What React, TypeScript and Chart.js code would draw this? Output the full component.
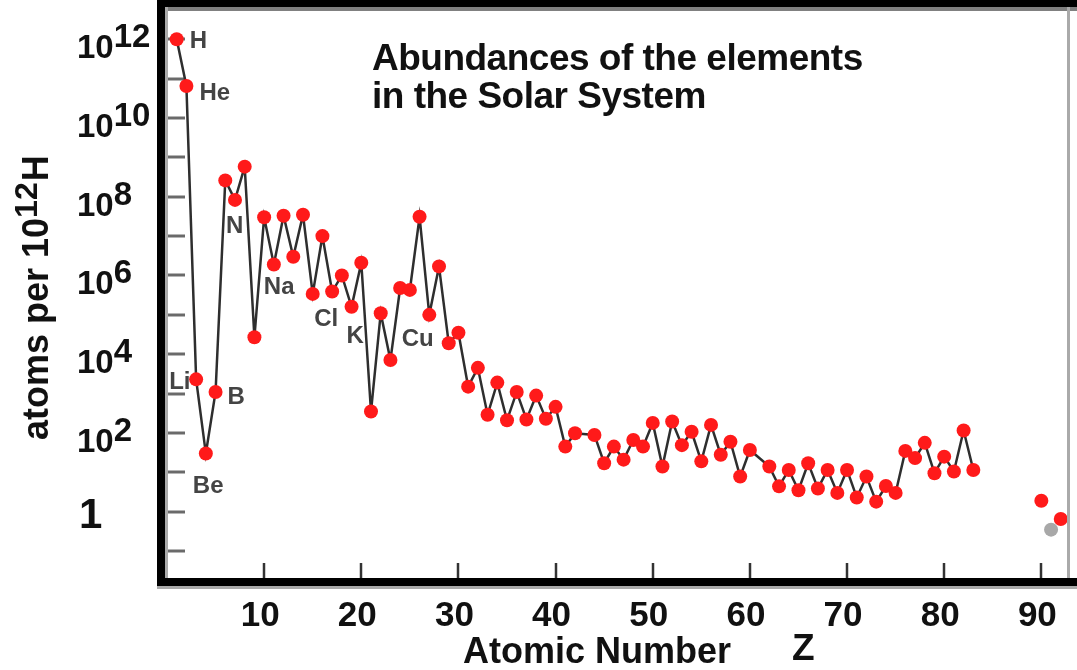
import React, { useEffect, useRef } from "react";
import { Chart, registerables } from "chart.js";

Chart.register(...registerables);

// ---- Data ----
const atomicNumbers = [
  1, 2, 3, 4, 5, 6, 7, 8, 9, 10, 11, 12, 13, 14, 15, 16, 17, 18, 19, 20,
  21, 22, 23, 24, 25, 26, 27, 28, 29, 30, 31, 32, 33, 34, 35, 36, 37, 38, 39, 40,
  41, 42, 44, 45, 46, 47, 48, 49, 50, 51, 52, 53, 54, 55, 56, 57, 58, 59, 60,
  62, 63, 64, 65, 66, 67, 68, 69, 70, 71, 72, 73, 74, 75, 76, 77, 78, 79, 80, 81, 82, 83,
];
const abundances = [
  1.0e12, 6.5e10, 2.3e3, 30, 1.1e3, 2.6e8, 8.3e7, 5.8e8, 2.7e4, 3.0e7,
  1.9e6, 3.3e7, 3.0e6, 3.5e7, 3.4e5, 1.0e7, 3.9e5, 1.0e6, 1.6e5, 2.1e6,
  350, 1.1e5, 7.1e3, 4.8e5, 4.3e5, 3.1e7, 1.0e5, 1.7e6, 1.9e4, 3.5e4,
  1.5e3, 4.5e3, 290, 1.9e3, 210, 1.1e3, 220, 890, 230, 460,
  45, 98, 89, 17, 45, 21, 66, 45, 180, 14, 195, 49, 107, 19, 160, 28, 60, 7.8, 37,
  14, 4.4, 11.5, 3.5, 17, 3.9, 11.5, 3.0, 11.5, 2.3, 7.8, 1.8, 4.5, 3.0, 35, 23, 56, 9.5, 25, 10.5, 115, 11.5,
];
const actinideZ = [90, 92];
const actinideAbundances = [1.9, 0.65];
const grayZ = [91];
const grayAbundances = [0.35];

const xTickValues = [10, 20, 30, 40, 50, 60, 70, 80, 90];
const yTickPowers = [-1, 0, 1, 2, 3, 4, 5, 6, 7, 8, 9, 10, 11, 12];
const yLabelPowers = [12, 10, 8, 6, 4, 2, 0];

const elementLabels = ["H", "He", "Li", "Be", "B", "N", "Na", "Cl", "K", "Cu"];
const elementLabelZ = [1, 2, 3, 4, 5, 7, 11, 17, 19, 29];
const elementLabelOffsets = [
  [13, 9], [13, 14], [-27, 10], [-13, 39], [12, 12], [-9, 33], [-10, 30], [-18, 34], [-5, 36], [-47, 3],
];

const titleLines = ["Abundances of the elements", "in the Solar System"];
const xAxisTitle = "Atomic Number";
const xAxisSymbol = "Z";
const yAxisTitleParts = ["atoms per 10", "12", "H"];

const FONT = '"Liberation Sans", Arial, Helvetica, sans-serif';
const RED = "#ff1a1a";

const decorPlugin = {
  id: "decor",
  beforeDatasetsDraw(chart: any) {
    const { ctx, chartArea: a, scales } = chart;
    ctx.save();
    // y tick marks (inside)
    ctx.strokeStyle = "#6a6a6a";
    ctx.lineWidth = 3;
    for (const p of yTickPowers) {
      const y = Math.round(scales.y.getPixelForValue(Math.pow(10, p)));
      ctx.beginPath();
      ctx.moveTo(a.left, y);
      ctx.lineTo(a.left + 20, y);
      ctx.stroke();
    }
    // x tick marks (inside)
    ctx.strokeStyle = "#333";
    ctx.lineWidth = 2.5;
    for (const v of xTickValues) {
      const x = Math.round(scales.x.getPixelForValue(v));
      ctx.beginPath();
      ctx.moveTo(x, a.bottom);
      ctx.lineTo(x, a.bottom - 15);
      ctx.stroke();
    }
    // title inside plot
    ctx.fillStyle = "#111";
    ctx.font = `bold 37px ${FONT}`;
    (ctx as any).letterSpacing = "-0.5px";
    ctx.textAlign = "left";
    ctx.textBaseline = "alphabetic";
    ctx.fillText(titleLines[0], a.left + 207, a.top + 63);
    ctx.fillText(titleLines[1], a.left + 207, a.top + 101);
    (ctx as any).letterSpacing = "0px";
    ctx.restore();
  },
  afterDatasetsDraw(chart: any) {
    const { ctx, scales } = chart;
    ctx.save();
    ctx.fillStyle = "#444";
    ctx.font = `bold 24px ${FONT}`;
    ctx.textAlign = "left";
    ctx.textBaseline = "alphabetic";
    elementLabels.forEach((lab, i) => {
      const z = elementLabelZ[i];
      const idx = atomicNumbers.indexOf(z);
      const px = scales.x.getPixelForValue(z);
      const py = scales.y.getPixelForValue(abundances[idx]);
      const [dx, dy] = elementLabelOffsets[i];
      ctx.fillText(lab, px + dx, py + dy);
    });
    ctx.restore();
  },
  afterDraw(chart: any) {
    const { ctx, chartArea: a, scales, width } = chart;
    ctx.save();
    // frame
    ctx.fillStyle = "#000";
    ctx.fillRect(a.left - 8, 0, 8, a.bottom + 8);
    ctx.fillRect(a.left - 8, 0, width, a.top);
    ctx.fillRect(a.left - 8, a.bottom, width, 8);
    ctx.fillStyle = "#808080";
    ctx.fillRect(a.left, a.top, width, 4);
    ctx.fillStyle = "#aaaaaa";
    ctx.fillRect(a.left, a.top, 3, a.bottom - a.top);
    ctx.fillRect(a.right - 3, a.top, 3, a.bottom - a.top);
    ctx.fillRect(a.left - 8, a.bottom + 8, width, 3);

    // y tick labels
    ctx.fillStyle = "#111";
    ctx.textAlign = "left";
    ctx.textBaseline = "alphabetic";
    for (const p of yLabelPowers) {
      const y = scales.y.getPixelForValue(Math.pow(10, p));
      if (p === 0) {
        ctx.font = `bold 42px ${FONT}`;
        ctx.fillText("1", 79, y + 16);
      } else {
        ctx.font = `bold 33px ${FONT}`;
        ctx.fillText("10", 77, y + 19);
        const w = ctx.measureText("10").width;
        ctx.fillText(String(p), 77 + w, y + 8);
      }
    }

    // x tick labels
    ctx.font = `bold 35px ${FONT}`;
    ctx.textAlign = "center";
    for (const v of xTickValues) {
      const x = scales.x.getPixelForValue(v);
      ctx.fillText(String(v), x - 4, a.bottom + 48);
    }

    // x axis title
    ctx.textAlign = "left";
    ctx.font = `bold 36px ${FONT}`;
    ctx.fillText(xAxisTitle, 463, a.bottom + 85);
    ctx.font = `bold 37px ${FONT}`;
    ctx.fillText(xAxisSymbol, 792, a.bottom + 82);

    // y axis title (rotated)
    ctx.translate(48, 440);
    ctx.rotate(-Math.PI / 2);
    ctx.font = `bold 36px ${FONT}`;
    ctx.fillText(yAxisTitleParts[0], 0, 0);
    let off = ctx.measureText(yAxisTitleParts[0]).width;
    ctx.font = `bold 32px ${FONT}`;
    ctx.fillText(yAxisTitleParts[1], off, -11);
    off += ctx.measureText(yAxisTitleParts[1]).width + 1;
    ctx.font = `bold 36px ${FONT}`;
    ctx.fillText(yAxisTitleParts[2], off, 0);
    ctx.restore();
  },
};

export default function App() {
  const ref = useRef<HTMLCanvasElement | null>(null);

  useEffect(() => {
    if (!ref.current) return;
    const mainData = atomicNumbers.map((z, i) => ({ x: z, y: abundances[i] }));
    const actData = actinideZ.map((z, i) => ({ x: z, y: actinideAbundances[i] }));
    const grayData = grayZ.map((z, i) => ({ x: z, y: grayAbundances[i] }));

    const chart = new Chart(ref.current, {
      type: "line",
      data: {
        datasets: [
          {
            data: mainData,
            borderColor: "#2e2e2e",
            borderWidth: 2.5,
            pointBackgroundColor: RED,
            pointBorderColor: RED,
            pointBorderWidth: 0,
            pointRadius: 7,
            pointStyle: "circle",
            tension: 0,
            fill: false,
          },
          {
            data: actData,
            showLine: false,
            pointBackgroundColor: RED,
            pointBorderColor: RED,
            pointBorderWidth: 0,
            pointRadius: 7,
          },
          {
            data: grayData,
            showLine: false,
            pointBackgroundColor: "#a8a8a8",
            pointBorderColor: "#a8a8a8",
            pointBorderWidth: 0,
            pointRadius: 7,
          },
        ],
      },
      options: {
        animation: false,
        responsive: true,
        maintainAspectRatio: false,
        devicePixelRatio: 1,
        layout: { padding: { top: 7, left: 0, right: 0, bottom: 0 } },
        plugins: {
          legend: { display: false },
          tooltip: { enabled: false },
          title: { display: false },
        },
        scales: {
          x: {
            type: "linear",
            min: -0.204,
            max: 92.95,
            grid: { display: false, drawTicks: false },
            border: { display: false },
            ticks: { display: false },
            afterBuildTicks: (s: any) => {
              s.ticks = xTickValues.map((v) => ({ value: v }));
            },
            afterFit: (s: any) => {
              s.height = 92;
            },
          },
          y: {
            type: "logarithmic",
            min: 0.0207,
            max: 6.59e12,
            grid: { display: false, drawTicks: false },
            border: { display: false },
            ticks: { display: false },
            afterBuildTicks: (s: any) => {
              s.ticks = yTickPowers.map((p) => ({ value: Math.pow(10, p) }));
            },
            afterFit: (s: any) => {
              s.width = 165;
            },
          },
        },
      } as any,
      plugins: [decorPlugin],
    });
    return () => chart.destroy();
  }, []);

  return (
    <div style={{ position: "fixed", left: 0, top: 0, width: 1077, height: 670, background: "#fff" }}>
      <canvas ref={ref} />
    </div>
  );
}
